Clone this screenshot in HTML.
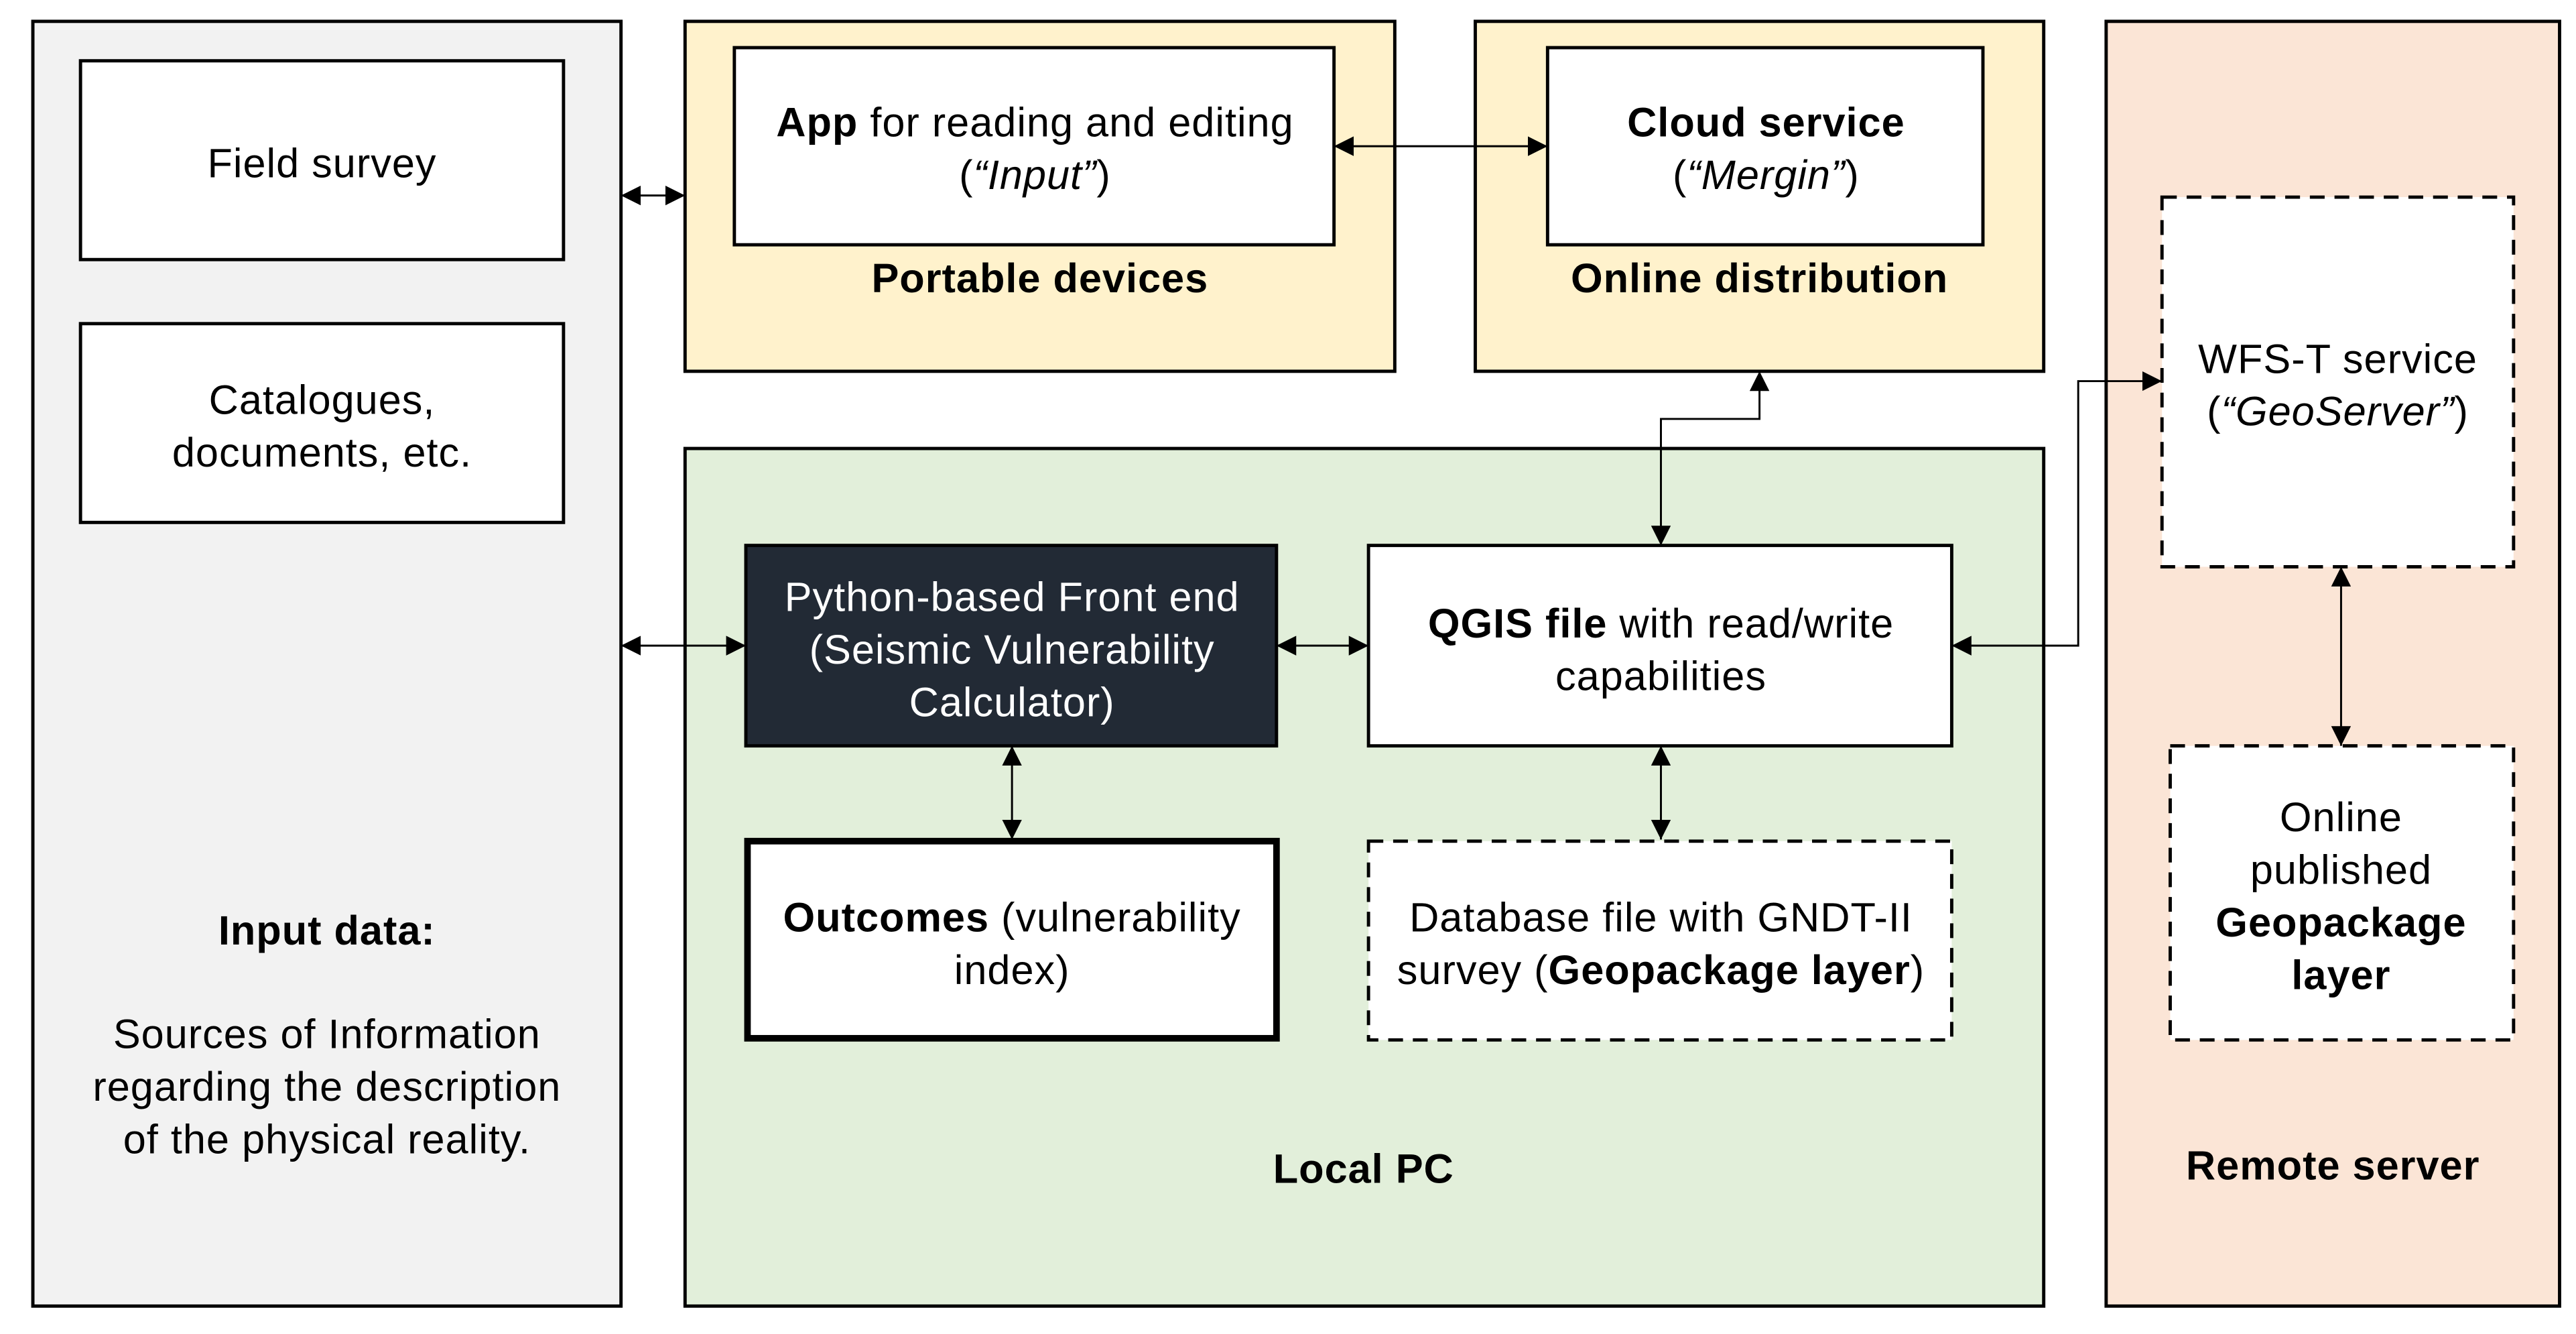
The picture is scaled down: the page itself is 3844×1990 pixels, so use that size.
<!DOCTYPE html>
<html><head><meta charset="utf-8"><style>
html,body{margin:0;padding:0;background:#fff}
svg{display:block}
text{font-family:"Liberation Sans",sans-serif;font-size:25px;letter-spacing:0.4px;fill:#000;text-anchor:middle}
.b{font-weight:bold}
</style></head><body>
<svg width="3844" height="1990" viewBox="0 0 1568 812" preserveAspectRatio="none" xmlns="http://www.w3.org/2000/svg">
<defs>
<marker id="a" viewBox="0 0 10 10" refX="10" refY="5" markerWidth="12" markerHeight="12" markerUnits="userSpaceOnUse" orient="auto-start-reverse"><path d="M0,0 L10,5 L0,10 z" fill="#000"/></marker>
</defs>
<rect x="20" y="13" width="358" height="782" fill="#f2f2f2" stroke="#000" stroke-width="2"/>
<rect x="417" y="13" width="432" height="213" fill="#fff2cc" stroke="#000" stroke-width="2"/>
<rect x="898" y="13" width="346" height="213" fill="#fff2cc" stroke="#000" stroke-width="2"/>
<rect x="417" y="273" width="827" height="522" fill="#e2efda" stroke="#000" stroke-width="2"/>
<rect x="1282" y="13" width="276" height="782" fill="#fbe5d6" stroke="#000" stroke-width="2"/>
<rect x="49" y="37" width="294" height="121" fill="#fff" stroke="#000" stroke-width="2"/>
<rect x="49" y="197" width="294" height="121" fill="#fff" stroke="#000" stroke-width="2"/>
<rect x="447" y="29" width="365" height="120" fill="#fff" stroke="#000" stroke-width="2"/>
<rect x="942" y="29" width="265" height="120" fill="#fff" stroke="#000" stroke-width="2"/>
<rect x="454" y="332" width="323" height="122" fill="#222a35" stroke="#000" stroke-width="2"/>
<rect x="833" y="332" width="355" height="122" fill="#fff" stroke="#000" stroke-width="2"/>
<rect x="455" y="512" width="322" height="120" fill="#fff" stroke="#000" stroke-width="4"/>
<rect x="833" y="512" width="355" height="121" fill="#fff" stroke="#000" stroke-width="2" stroke-dasharray="9,6"/>
<rect x="1316" y="120" width="214" height="225" fill="#fff" stroke="#000" stroke-width="2" stroke-dasharray="9,6"/>
<rect x="1321" y="454" width="209" height="179" fill="#fff" stroke="#000" stroke-width="2" stroke-dasharray="9,6"/>
<g stroke="#000" stroke-width="1.2" fill="none" marker-start="url(#a)" marker-end="url(#a)">
<line x1="378" y1="119" x2="417" y2="119"/>
<line x1="378" y1="393" x2="454" y2="393"/>
<line x1="812" y1="89" x2="942" y2="89"/>
<line x1="777" y1="393" x2="833" y2="393"/>
<line x1="616" y1="454" x2="616" y2="511"/>
<line x1="1011" y1="454" x2="1011" y2="511"/>
<polyline points="1011,332 1011,255 1071,255 1071,226"/>
<polyline points="1188,393 1265,393 1265,232 1316,232"/>
<line x1="1425" y1="345" x2="1425" y2="454"/>
</g>
<text x="196" y="108">Field survey</text>
<text x="196" y="252">Catalogues,</text>
<text x="196" y="284">documents, etc.</text>
<text x="199" y="575" class="b">Input data:</text>
<text x="199" y="638">Sources of Information</text>
<text x="199" y="670">regarding the description</text>
<text x="199" y="702">of the physical reality.</text>
<text x="630" y="83"><tspan class="b">App</tspan> for reading and editing</text>
<text x="630" y="115">(<tspan font-style="italic">“Input”</tspan>)</text>
<text x="633" y="178" class="b">Portable devices</text>
<text x="1075" y="83" class="b">Cloud service</text>
<text x="1075" y="115">(<tspan font-style="italic">“Mergin”</tspan>)</text>
<text x="1071" y="178" class="b">Online distribution</text>
<text x="616" y="372" style="fill:#fff">Python-based Front end</text>
<text x="616" y="404" style="fill:#fff">(Seismic Vulnerability</text>
<text x="616" y="436" style="fill:#fff">Calculator)</text>
<text x="1011" y="388"><tspan class="b">QGIS file</tspan> with read/write</text>
<text x="1011" y="420">capabilities</text>
<text x="616" y="567"><tspan class="b">Outcomes</tspan> (vulnerability</text>
<text x="616" y="599">index)</text>
<text x="1011" y="567">Database file with GNDT-II</text>
<text x="1011" y="599">survey (<tspan class="b">Geopackage layer</tspan>)</text>
<text x="830" y="720" class="b">Local PC</text>
<text x="1423" y="227">WFS-T service</text>
<text x="1423" y="259">(<tspan font-style="italic">“GeoServer”</tspan>)</text>
<text x="1425" y="506">Online</text>
<text x="1425" y="538">published</text>
<text x="1425" y="570" class="b">Geopackage</text>
<text x="1425" y="602" class="b">layer</text>
<text x="1420" y="718" class="b">Remote server</text>
</svg>
</body></html>
